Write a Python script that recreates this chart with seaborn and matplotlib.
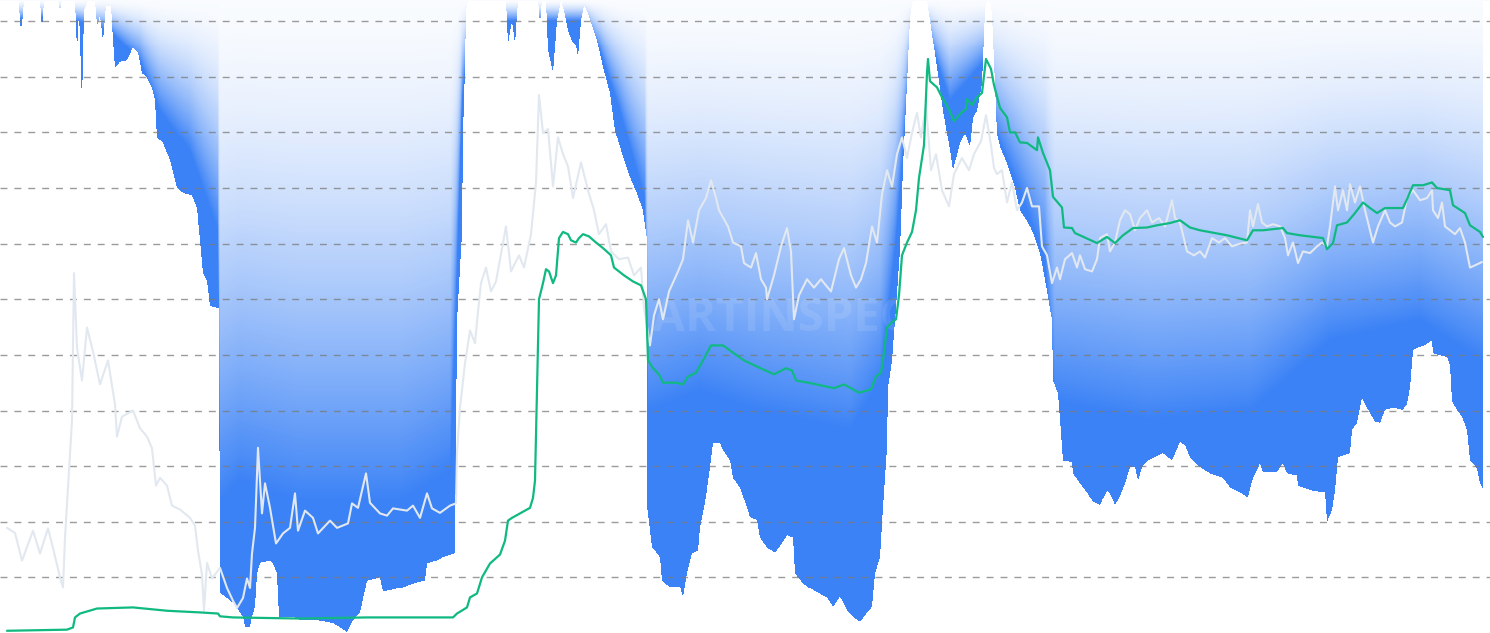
import numpy as np
import pandas as pd
import matplotlib
matplotlib.use("Agg")
import matplotlib.pyplot as plt
import seaborn as sns

# ==============================
# Data (y in grid units, gridlines at 1..11)
# ==============================
TOP = 11.38

price_x = [7, 15, 22, 33, 40, 48, 53, 60, 63, 65, 68, 72, 74, 77, 82, 87, 93, 100, 108, 115,
           117, 122, 133, 140, 147, 152, 156, 160, 167, 172, 180, 190, 195, 198, 202, 204, 207, 212, 220, 227,
           233, 237, 243, 247, 250, 252, 255, 258, 262, 265, 270, 276, 283, 290, 295, 298, 305, 313, 318, 330,
           337, 348, 352, 358, 366, 370, 380, 387, 393, 407, 413, 420, 427, 432, 440, 450, 456, 457, 460, 465,
           470, 475, 478, 481, 486, 491, 496, 506, 511, 519, 524, 531, 536, 539, 543, 548, 553, 558, 563, 568,
           573, 581, 588, 594, 599, 606, 611, 619, 628, 634, 641, 644, 650, 654, 659, 663, 669, 678, 683, 688,
           693, 699, 706, 711, 716, 719, 728, 733, 741, 744, 751, 756, 761, 766, 767, 774, 781, 787, 791, 794,
           799, 807, 814, 821, 831, 839, 844, 851, 856, 861, 866, 872, 877, 882, 887, 892, 897, 902, 907, 912,
           917, 921, 926, 931, 936, 942, 949, 954, 962, 969, 974, 981, 986, 991, 994, 997, 1002, 1007, 1012, 1017,
           1022, 1027, 1032, 1039, 1042, 1047, 1052, 1057, 1060, 1065, 1072, 1077, 1080, 1085, 1092, 1097, 1100, 1107, 1110, 1115,
           1120, 1125, 1130, 1135, 1140, 1147, 1152, 1159, 1165, 1172, 1175, 1180, 1187, 1194, 1200, 1205, 1212, 1219, 1225, 1232,
           1240, 1247, 1250, 1253, 1258, 1262, 1267, 1273, 1280, 1285, 1288, 1293, 1298, 1303, 1310, 1317, 1322, 1327, 1330, 1335,
           1338, 1343, 1347, 1350, 1355, 1360, 1365, 1368, 1373, 1378, 1385, 1390, 1395, 1402, 1407, 1413, 1420, 1427, 1432, 1433,
           1438, 1442, 1445, 1450, 1455, 1460, 1465, 1470, 1475, 1482]
price_v = [1.89, 1.80, 1.30, 1.84, 1.43, 1.88, 1.53, 1.00, 0.82, 1.71, 2.61, 3.82, 6.47, 5.13, 4.54, 5.49, 5.06, 4.47, 4.90, 4.11,
           3.53, 3.89, 4.00, 3.68, 3.53, 3.32, 2.65, 2.79, 2.65, 2.29, 2.22, 2.07, 1.93, 1.48, 1.05, 0.40, 1.26, 0.98, 1.17, 0.81,
           0.58, 0.45, 0.63, 0.98, 0.81, 1.43, 1.89, 3.33, 2.15, 2.69, 2.25, 1.61, 1.79, 1.89, 2.51, 1.84, 2.20, 2.07, 1.79, 2.02,
           1.89, 1.97, 2.33, 2.25, 2.87, 2.34, 2.15, 2.11, 2.24, 2.20, 2.29, 2.07, 2.51, 2.24, 2.16, 2.29, 2.33, 3.23, 4.05, 4.85,
           5.44, 5.21, 5.78, 6.29, 6.57, 6.14, 6.32, 7.31, 6.50, 6.79, 6.57, 7.17, 8.10, 9.67, 8.99, 9.06, 8.03, 8.91, 8.61, 8.39,
           7.82, 8.46, 7.96, 7.60, 7.17, 7.35, 6.86, 6.72, 6.75, 6.43, 6.57, 5.85, 5.17, 5.71, 6.00, 5.64, 6.14, 6.50, 6.72, 7.42,
           7.02, 7.60, 7.82, 8.14, 7.82, 7.60, 7.31, 7.02, 6.95, 6.65, 6.57, 6.83, 6.36, 6.21, 6.00, 6.43, 6.95, 7.28, 6.86, 5.64,
           6.07, 6.36, 6.21, 6.36, 6.14, 6.72, 6.92, 6.43, 6.21, 6.36, 6.65, 7.31, 7.02, 7.89, 8.32, 8.03, 8.61, 8.91, 8.54, 8.99,
           9.35, 8.91, 9.49, 8.32, 8.61, 7.96, 7.67, 8.25, 8.54, 8.32, 8.61, 8.84, 9.31, 8.77, 8.36, 8.25, 8.32, 7.74, 8.10, 7.60,
           7.74, 8.00, 7.67, 7.67, 6.95, 6.79, 6.29, 6.57, 6.36, 6.72, 6.83, 6.57, 6.79, 6.54, 6.50, 6.72, 7.10, 7.17, 6.86, 7.02,
           7.42, 7.60, 7.53, 7.24, 7.46, 7.60, 7.38, 7.46, 7.31, 7.78, 7.46, 7.38, 6.86, 6.79, 6.86, 6.75, 7.10, 7.02, 7.10, 6.95,
           7.00, 7.02, 7.60, 7.31, 7.71, 7.38, 7.31, 7.35, 7.31, 7.10, 6.79, 7.02, 6.65, 6.86, 6.83, 6.95, 7.02, 6.95, 7.31, 8.03,
           7.60, 7.96, 7.60, 8.07, 7.74, 8.03, 7.60, 7.38, 7.02, 7.31, 7.60, 7.38, 7.31, 7.38, 7.82, 7.96, 7.78, 7.82, 7.96, 7.60,
           7.46, 7.74, 7.31, 7.24, 7.17, 7.28, 7.02, 6.57, 6.61, 6.67]

cost_x = [7, 67, 73, 75, 80, 97, 133, 167, 200, 218, 220, 233, 300, 367, 453, 457, 467, 470, 477, 482,
          490, 500, 505, 508, 512, 520, 530, 533, 535, 537, 538, 539, 543, 546, 549, 553, 556, 559, 563, 568,
          571, 576, 579, 583, 589, 596, 603, 611, 614, 624, 633, 641, 646, 648, 653, 659, 663, 676, 683, 688,
          696, 703, 711, 723, 733, 744, 757, 774, 786, 792, 796, 811, 834, 844, 859, 871, 876, 881, 884, 887,
          891, 896, 899, 902, 907, 912, 916, 919, 924, 927, 928, 930, 937, 942, 949, 954, 961, 966, 967, 972,
          977, 982, 986, 991, 994, 1000, 1007, 1010, 1015, 1020, 1027, 1037, 1038, 1043, 1050, 1053, 1062, 1064, 1072, 1075,
          1097, 1107, 1115, 1123, 1133, 1147, 1157, 1170, 1180, 1190, 1200, 1227, 1247, 1253, 1263, 1283, 1287, 1300, 1323, 1327,
          1333, 1337, 1347, 1355, 1363, 1370, 1377, 1385, 1403, 1408, 1413, 1423, 1432, 1437, 1450, 1453, 1465, 1470, 1480, 1483]
cost_v = [0.04, 0.06, 0.10, 0.28, 0.35, 0.44, 0.46, 0.40, 0.37, 0.35, 0.30, 0.28, 0.26, 0.28, 0.28, 0.35, 0.46, 0.64, 0.71, 1.00,
          1.25, 1.41, 1.66, 2.02, 2.07, 2.15, 2.25, 2.43, 2.74, 4.41, 5.26, 6.00, 6.29, 6.54, 6.50, 6.29, 6.43, 7.10, 7.21, 7.17,
          7.06, 7.02, 7.10, 7.17, 7.13, 7.02, 6.92, 6.79, 6.57, 6.43, 6.32, 6.25, 6.00, 4.90, 4.76, 4.65, 4.50, 4.50, 4.47, 4.61,
          4.68, 4.90, 5.17, 5.17, 5.04, 4.90, 4.79, 4.65, 4.76, 4.72, 4.54, 4.49, 4.40, 4.47, 4.32, 4.38, 4.61, 4.68, 5.04, 5.49,
          5.57, 5.64, 6.07, 6.79, 7.02, 7.21, 7.60, 8.18, 8.77, 10.07, 10.32, 9.92, 9.81, 9.63, 9.42, 9.20, 9.35, 9.42, 9.60, 9.49,
          9.63, 9.71, 10.32, 10.14, 9.85, 9.44, 9.27, 9.00, 9.00, 8.82, 8.81, 8.68, 8.91, 8.63, 8.32, 7.84, 7.65, 7.29, 7.28, 7.19,
          7.01, 7.12, 7.01, 7.15, 7.28, 7.29, 7.33, 7.37, 7.42, 7.29, 7.24, 7.15, 7.06, 7.24, 7.24, 7.28, 7.19, 7.15, 7.10, 6.90,
          7.01, 7.33, 7.38, 7.55, 7.74, 7.64, 7.55, 7.64, 7.64, 7.84, 8.05, 8.05, 8.10, 8.00, 7.96, 7.69, 7.55, 7.33, 7.21, 7.12]

# lower edge of the blue band (TOP means no band in that column)
band_x = [0, 19, 20, 22, 24, 40, 42, 44, 58, 60, 62, 75, 77, 79, 82, 84, 88, 95, 97, 100,
          103, 106, 111, 113, 115, 120, 127, 133, 138, 142, 147, 152, 155, 157, 163, 170, 177, 183, 192, 197,
          200, 203, 207, 210, 219, 220, 233, 243, 245, 250, 252, 255, 257, 260, 270, 273, 277, 279, 293, 300,
          317, 333, 347, 353, 360, 367, 380, 383, 400, 417, 425, 427, 437, 443, 455, 457, 462, 463, 465, 466,
          468, 506, 508, 512, 515, 518, 538, 540, 542, 546, 548, 553, 557, 561, 564, 568, 572, 576, 578, 581,
          584, 587, 597, 603, 610, 615, 623, 630, 637, 643, 647, 647.5, 652, 660, 662, 670, 680, 683, 687, 692,
          698, 700, 705, 710, 713, 720, 723, 730, 733, 740, 747, 750, 757, 760, 767, 775, 782, 787, 793, 795,
          803, 813, 827, 833, 840, 847, 853, 860, 867, 872, 875, 880, 883, 887, 888, 892, 895, 900, 903, 907,
          910, 912, 914, 927, 930, 937, 943, 950, 953, 960, 965, 970, 973, 977, 982, 985, 987, 990, 992, 997,
          1000, 1007, 1015, 1020, 1027, 1033, 1040, 1047, 1052, 1053, 1058, 1063, 1072, 1073, 1080, 1087, 1093, 1100, 1107, 1110,
          1115, 1118, 1125, 1130, 1135, 1138, 1142, 1148, 1163, 1172, 1180, 1185, 1190, 1200, 1210, 1223, 1230, 1240, 1248, 1252,
          1260, 1263, 1277, 1283, 1287, 1297, 1298, 1313, 1325, 1327, 1332, 1335, 1338, 1350, 1352, 1357, 1362, 1367, 1375, 1380,
          1385, 1393, 1403, 1407, 1410, 1413, 1418, 1425, 1432, 1433, 1440, 1447, 1450, 1452, 1457, 1462, 1467, 1470, 1477, 1480,
          1483]
band_floor = [11.38, 11.38, 10.93, 10.93, 11.38, 11.38, 10.88, 11.38, 11.38, 11.20, 11.38, 11.38, 10.48, 11.20, 9.53, 11.20, 11.38, 11.38, 10.93, 11.11,
              10.66, 11.29, 11.29, 10.66, 10.16, 10.27, 10.30, 10.53, 10.43, 10.07, 9.99, 9.81, 9.58, 8.91, 8.81, 8.50, 8.01, 7.92, 7.87, 7.65,
              7.06, 6.47, 6.34, 5.89, 5.84, 0.71, 0.53, 0.28, 0.10, 0.10, 0.28, 0.46, 1.07, 1.26, 1.30, 1.25, 1.07, 0.28, 0.28, 0.22,
              0.22, 0.17, 0.01, 0.22, 0.35, 0.94, 1.00, 0.73, 0.80, 0.91, 0.94, 1.25, 1.30, 1.36, 1.43, 5.62, 7.19, 8.99, 10.18, 11.20,
              11.38, 11.38, 10.61, 11.02, 10.61, 11.38, 11.38, 10.97, 11.38, 11.38, 10.48, 10.08, 11.02, 11.38, 11.20, 10.84, 10.66, 10.57, 10.36, 11.02,
              11.29, 11.20, 10.66, 10.18, 9.71, 9.04, 8.56, 8.20, 7.91, 7.60, 7.06, 2.20, 1.54, 1.36, 0.94, 0.82, 0.82, 0.64, 1.07, 1.43,
              1.48, 1.89, 2.33, 2.98, 3.41, 3.41, 3.28, 3.10, 2.79, 2.61, 2.25, 2.07, 2.02, 1.71, 1.53, 1.44, 1.61, 1.75, 1.71, 1.07,
              0.89, 0.76, 0.62, 0.46, 0.64, 0.40, 0.28, 0.19, 0.35, 0.46, 1.07, 1.36, 2.25, 3.33, 4.41, 4.90, 5.62, 6.88, 8.38, 9.88,
              11.07, 11.32, 11.38, 11.38, 11.02, 10.18, 9.40, 8.68, 8.32, 8.81, 8.99, 8.74, 9.27, 9.40, 9.88, 11.20, 11.38, 11.38, 11.15, 8.99,
              8.74, 8.45, 8.01, 7.60, 7.42, 7.19, 6.83, 6.16, 5.62, 4.54, 4.31, 3.10, 3.07, 2.87, 2.69, 2.53, 2.35, 2.29, 2.56, 2.51,
              2.29, 2.38, 2.69, 2.98, 2.98, 2.74, 2.98, 3.10, 3.23, 3.10, 3.43, 3.37, 3.16, 2.98, 2.87, 2.79, 2.62, 2.53, 2.44, 2.74,
              3.05, 2.89, 2.89, 3.05, 2.87, 2.83, 2.65, 2.56, 2.53, 1.99, 2.20, 2.56, 3.16, 3.23, 3.64, 3.77, 4.24, 4.04, 3.79, 3.77,
              4.00, 4.04, 4.00, 4.13, 4.41, 5.08, 5.13, 5.17, 5.26, 5.03, 4.99, 4.96, 4.81, 4.18, 4.00, 3.88, 3.64, 3.10, 2.96, 2.69,
              2.60]

# level where the band becomes fully opaque
solid_x = [0, 60, 110, 140, 160, 190, 218, 220, 240, 300, 400, 450, 456, 462, 470, 585, 600, 620, 645, 648,
           700, 760, 850, 880, 895, 910, 930, 950, 985, 995, 1020, 1045, 1055, 1150, 1250, 1330, 1420, 1450, 1483]
solid_v = [11.02, 11.11, 10.84, 10.30, 9.40, 8.68, 7.24, 2.38, 2.74, 2.38, 2.38, 2.92, 5.98, 9.58, 11.02, 11.02, 10.48, 9.40, 7.78, 4.00,
           4.36, 4.00, 3.64, 4.54, 6.88, 10.30, 10.66, 9.58, 10.30, 9.04, 7.96, 6.70, 4.18, 3.82, 4.00, 5.26, 5.62, 5.26, 4.90]

price = pd.DataFrame({"t": price_x, "v": price_v})
cost = pd.DataFrame({"t": cost_x, "v": cost_v})

# ==============================
# Figure
# ==============================
sns.set_style("white")
plt.rcParams['font.family'] = ['Open Sans', 'DejaVu Sans']

fig = plt.figure(figsize=(14.9, 6.33), dpi=100)
ax = fig.add_axes([0, 0, 1, 1])
X_MAX = 1490

# gradient band: per column alpha ramps from the top down to the solid level
cols = np.arange(X_MAX) + 0.5
rows = np.linspace(0, TOP, 640)
floor_c = np.interp(cols, band_x, band_floor, left=TOP, right=TOP)
solid_c = np.interp(cols, solid_x, solid_v)
vv = rows[:, None]
ramp = np.clip((TOP - vv) / np.maximum(TOP - solid_c[None, :], 0.05), 0, 1) ** 1.6
ramp = 0.03 + 0.97 * ramp
ramp[vv < floor_c[None, :]] = 0
img = np.zeros((len(rows), X_MAX, 4))
img[..., 0] = 59 / 255
img[..., 1] = 130 / 255
img[..., 2] = 246 / 255
img[..., 3] = ramp
ax.imshow(img, extent=[0, X_MAX, 0, TOP], origin='lower', aspect='auto',
          interpolation='nearest', zorder=0)

# watermark
ax.text(762, 5.65, "CHARTINSPECT", ha='center', va='center', fontsize=34,
        fontweight='bold', color='white', alpha=0.1, zorder=1.2)

sns.lineplot(data=price, x="t", y="v", ax=ax, color="#e2e8f0", linewidth=1.5,
             estimator=None, sort=False, zorder=2)
sns.lineplot(data=cost, x="t", y="v", ax=ax, color="#10b981", linewidth=1.6,
             estimator=None, sort=False, zorder=3)

ax.set_xlim(0, X_MAX)
ax.set_ylim(0, TOP)
ax.set_yticks(range(1, 12))
ax.set_xticks([])
ax.grid(axis='y', linestyle=(0, (5, 5)), color='#7a7a7a', linewidth=1, alpha=0.75)
ax.set_axisbelow('line')
ax.tick_params(left=False, bottom=False, labelleft=False, labelbottom=False)
ax.set_xlabel("")
ax.set_ylabel("")
for s in ax.spines.values():
    s.set_visible(False)

fig.savefig("out.png", dpi=100)
